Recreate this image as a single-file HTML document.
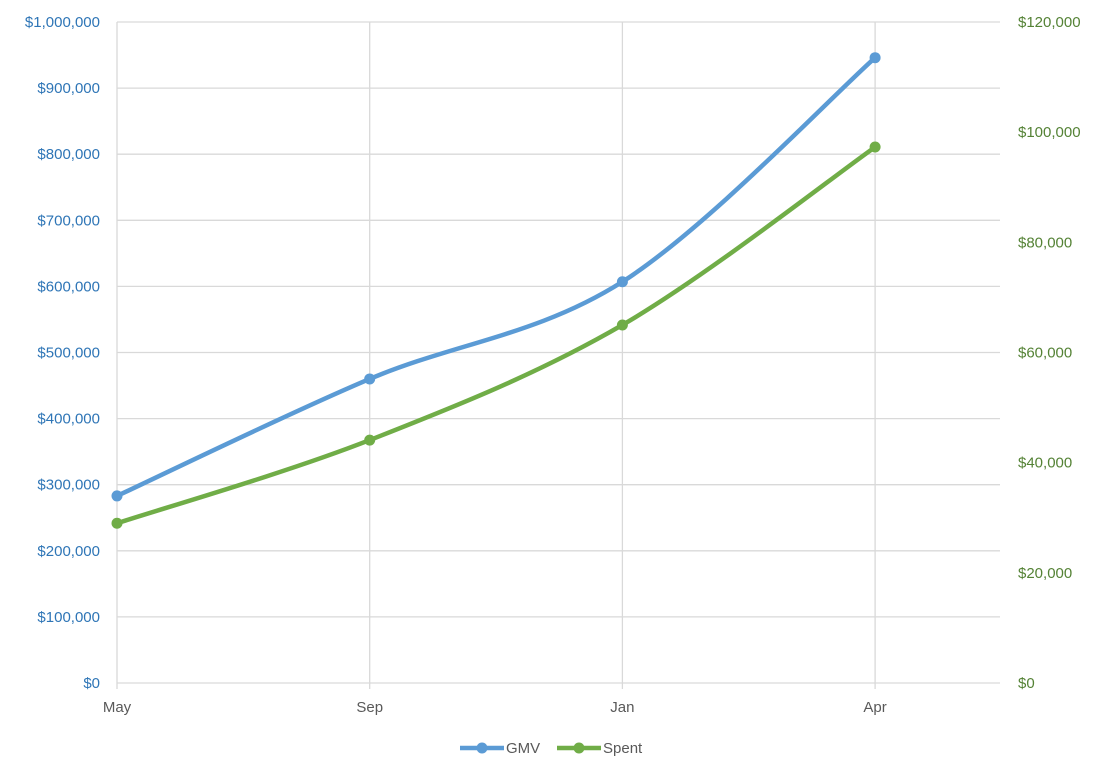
<!DOCTYPE html>
<html><head><meta charset="utf-8"><style>
body{margin:0;background:#fff;}
svg{display:block;font-family:"Liberation Sans",sans-serif;}
</style></head><body>
<svg id="chart" width="1104" height="779"></svg>
<script>
const categories=["May","Sep","Jan","Apr"];
const gmvValues=[283000,460000,607000,946000];
const spentValues=[29000,44100,65000,97300];
const leftTicks=[0,100000,200000,300000,400000,500000,600000,700000,800000,900000,1000000];
const rightTicks=[0,20000,40000,60000,80000,100000,120000];

const NS="http://www.w3.org/2000/svg";
const svg=document.getElementById('chart');
const L=117,R=1000,T=22,B=683,step=252.7;
const x=i=>L+i*step;
const yL=v=>B-(v/1000000)*(B-T);
const yR=v=>B-(v/120000)*(B-T);
const fmt=v=>'$'+v.toLocaleString('en-US');
function mk(tag,attrs,parent){const e=document.createElementNS(NS,tag);for(const k in attrs)e.setAttribute(k,attrs[k]);(parent||svg).appendChild(e);return e;}

const grid=mk('g',{});


leftTicks.forEach(v=>{const l=mk('line',{x1:L,x2:R,y1:yL(v),y2:yL(v),stroke:'#d9d9d9','stroke-width':1.3},grid);

});
categories.forEach((c,i)=>{const l=mk('line',{x1:x(i),x2:x(i),y1:T,y2:B+6,stroke:'#d9d9d9','stroke-width':1.3},grid);

});

leftTicks.forEach(v=>{const t=mk('text',{x:100,y:yL(v)+5,'text-anchor':'end','font-size':15,fill:'#2E75B6'});t.textContent=fmt(v);

});
rightTicks.forEach(v=>{const t=mk('text',{x:1018,y:yR(v)+5,'text-anchor':'start','font-size':15,fill:'#548235'});t.textContent=fmt(v);

});
categories.forEach((c,i)=>{const t=mk('text',{x:x(i),y:712,'text-anchor':'middle','font-size':15,fill:'#595959'});t.textContent=c;

});

function smooth(pts){let d=`M${pts[0][0]},${pts[0][1]}`;
for(let i=0;i<pts.length-1;i++){const p0=pts[i-1]||pts[i],p1=pts[i],p2=pts[i+1],p3=pts[i+2]||p2;
const c1=[p1[0]+(p2[0]-p0[0])/6,p1[1]+(p2[1]-p0[1])/6],c2=[p2[0]-(p3[0]-p1[0])/6,p2[1]-(p3[1]-p1[1])/6];
d+=` C${c1[0]},${c1[1]} ${c2[0]},${c2[1]} ${p2[0]},${p2[1]}`;}return d;}
function series(vals,yf,color,name){const pts=vals.map((v,i)=>[x(i),yf(v)]);
const p=mk('path',{d:smooth(pts),fill:'none',stroke:color,'stroke-width':4.5,'stroke-linecap':'round'});


pts.forEach(q=>{const c=mk('circle',{cx:q[0],cy:q[1],r:5.5,fill:color});

});}
series(gmvValues,yL,'#5B9BD5','gmv');
series(spentValues,yR,'#70AD47','spent');

function legend(x0,color,label,name){const g=mk('g',{});


mk('line',{x1:x0,x2:x0+44,y1:748,y2:748,stroke:color,'stroke-width':4.5},g);
mk('circle',{cx:x0+22,cy:748,r:5.5,fill:color},g);
const t=mk('text',{x:x0+46,y:753,'font-size':15,fill:'#595959'},g);t.textContent=label;}
legend(460,'#5B9BD5','GMV','gmv');
legend(557,'#70AD47','Spent','spent');
</script>
</body></html>
